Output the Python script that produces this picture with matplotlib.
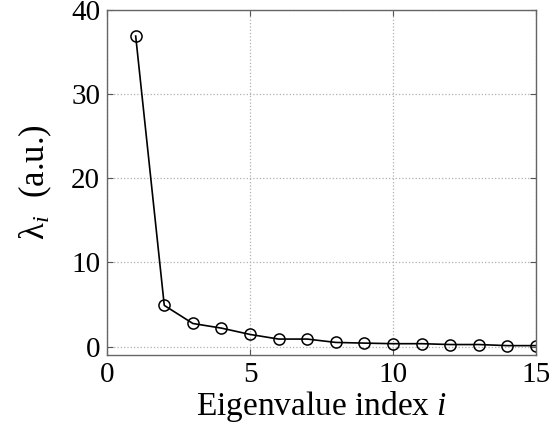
import matplotlib
matplotlib.use("Agg")
import matplotlib.pyplot as plt

plt.rcParams['font.family'] = ['Liberation Serif', 'DejaVu Serif']
plt.rcParams['mathtext.fontset'] = 'custom'
plt.rcParams['mathtext.rm'] = 'Liberation Serif'
plt.rcParams['mathtext.it'] = 'Liberation Serif:italic'

# eigenvalue index and eigenvalues
idx = list(range(1, 16))
lam = [36.9, 4.9, 2.75, 2.2, 1.45, 0.9, 0.9, 0.5, 0.42, 0.35, 0.35, 0.25, 0.25, 0.12, 0.12]

fig = plt.figure(figsize=(5.52, 4.33), dpi=100)
ax = fig.add_axes([0.194, 0.180, 0.777, 0.797])

ax.plot(idx, lam, color='black', lw=1.2, marker='o', ms=8,
        mfc='none', mec='black', mew=1.1)

ax.set_xlim(0, 15)
ax.set_ylim(-1, 40)
ax.set_xticks([0, 5, 10, 15])
ax.set_yticks([0, 10, 20, 30, 40])
ax.grid(True, ls=':', color='#b0b0b0', lw=0.9)
ax.tick_params(direction='in', top=True, right=True, labelsize=21,
               length=4, color='#555555', pad=5)
for s in ax.spines.values():
    s.set_color('#666666')
    s.set_linewidth(1.0)

ax.set_xlabel('Eigenvalue index $i$', fontsize=24, labelpad=1)
ax.set_ylabel('λ$_i$  (a.u.)', fontsize=25, labelpad=12)

fig.savefig('out.png', dpi=100)
